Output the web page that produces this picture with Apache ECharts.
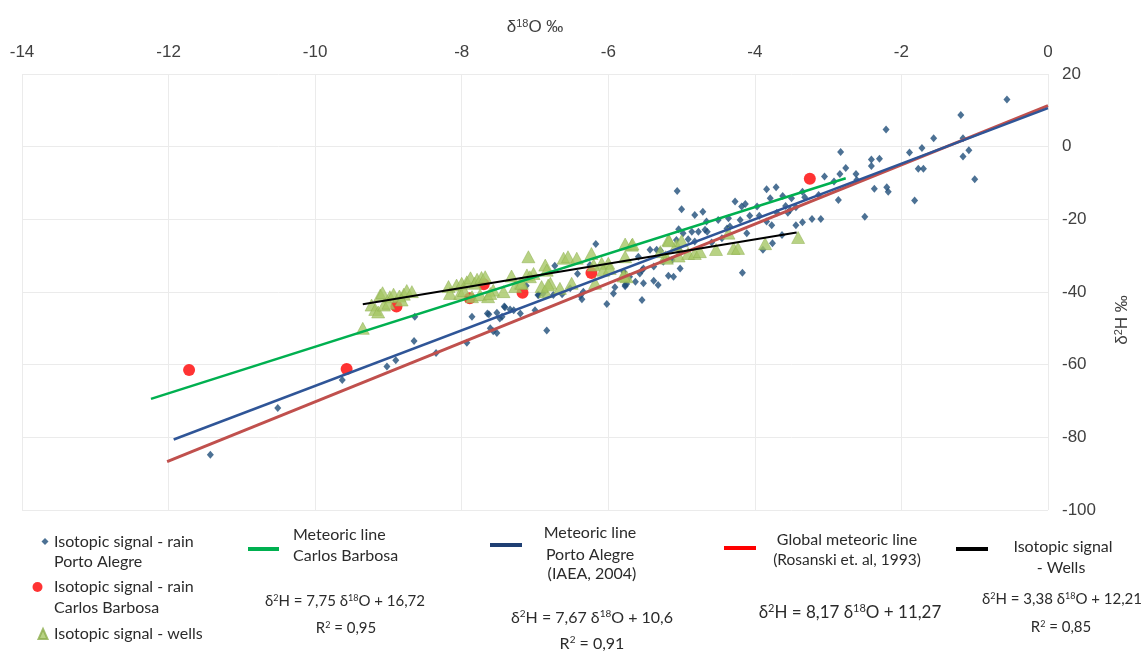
<!DOCTYPE html>
<html>
<head>
<meta charset="utf-8">
<script src="https://cdn.jsdelivr.net/npm/echarts@6/dist/echarts.min.js"></script>
<style>
html, body { margin: 0; padding: 0; background: #fff; }
#chart { width: 1145px; height: 651px; }
</style>
</head>
<body>
<div id="chart"></div>
<script>
// d18O (x), d2H (y)
const rainPortoAlegre = [
  [-11.43,-84.8],[-10.51,-71.9],[-9.63,-64.2],[-9.02,-60.5],[-8.90,-58.8],[-8.65,-53.5],[-8.35,-56.8],
  [-8.64,-46.8],[-7.93,-54.0],[-7.86,-46.8],[-7.63,-46.1],[-7.52,-45.7],[-7.41,-44.2],[-7.34,-44.8],
  [-7.29,-45.0],[-7.20,-45.9],[-7.45,-46.8],[-7.61,-50.0],[-7.57,-50.8],[-7.52,-51.3],[-6.84,-50.6],
  [-7.00,-45.0],[-6.95,-40.8],[-6.89,-40.4],[-6.75,-40.8],[-6.63,-40.6],[-6.52,-39.0],[-6.38,-41.0],
  [-6.36,-42.0],[-6.34,-39.9],[-6.73,-32.8],[-6.42,-35.0],[-6.02,-43.3],[-5.91,-38.7],[-5.93,-40.4],
  [-5.77,-38.1],[-5.63,-37.2],[-6.17,-26.8],[-6.25,-32.6],[-5.54,-42.2],[-5.75,-37.8],[-5.52,-37.6],
  [-5.38,-36.9],[-5.32,-38.1],[-5.43,-28.4],[-5.29,-28.6],[-5.54,-34.0],[-5.57,-34.9],[-5.18,-35.5],
  [-5.11,-35.8],[-5.04,-28.4],[-7.12,-38.3],[-7.42,-44.0],[-7.65,-45.9],[-7.48,-47.3],[-6.96,-40.8],
  [-5.06,-12.2],[-5.00,-17.2],[-4.82,-18.8],[-4.71,-17.9],[-4.66,-20.6],[-4.50,-20.2],[-4.36,-19.7],
  [-4.34,-22.0],[-4.20,-20.2],[-4.27,-15.1],[-4.18,-16.5],[-4.13,-15.8],[-3.97,-16.5],[-4.38,-22.5],
  [-4.07,-19.0],[-3.94,-19.0],[-3.84,-11.7],[-3.71,-11.2],[-3.79,-14.2],[-3.62,-13.6],[-3.50,-14.2],
  [-3.35,-12.4],[-3.58,-16.3],[-3.52,-17.4],[-3.44,-16.7],[-3.84,-20.6],[-3.77,-21.6],[-3.70,-18.2],
  [-3.55,-18.2],[-4.11,-23.8],[-3.63,-24.3],[-3.44,-21.6],[-3.35,-20.8],[-3.22,-19.9],[-3.10,-19.9],
  [-2.86,-14.7],[-2.50,-19.3],[-3.89,-28.4],[-3.76,-26.6],[-4.17,-34.7],[-5.04,-22.7],[-4.98,-23.8],
  [-4.86,-23.4],[-4.77,-23.4],[-4.68,-22.9],[-4.65,-23.4],[-5.07,-25.7],[-4.91,-25.5],[-4.82,-26.1],
  [-4.59,-26.4],[-4.45,-25.2],[-5.59,-30.3],[-5.34,-28.4],[-5.52,-33.5],[-5.38,-33.0],[-5.25,-31.7],
  [-5.13,-31.2],[-5.02,-33.5],[-5.77,-38.4],[-5.71,-35.8],[-5.79,-34.4],
  [-0.56,13.0],[-1.19,8.7],[-1.16,2.3],[-1.16,-2.7],[-1.08,-1.0],[-1.00,-9.0],[-1.56,2.3],[-1.72,-0.4],
  [-1.89,-1.6],[-1.77,-6.1],[-1.70,-6.1],[-1.82,-14.8],[-2.21,4.7],[-2.41,-3.5],[-2.41,-5.3],
  [-2.30,-3.3],[-2.20,-11.2],[-2.18,-12.4],[-2.37,-11.6],[-2.83,-1.5],[-2.76,-5.9],[-2.62,-7.5],
  [-2.61,-9.2],[-2.84,-7.5],[-3.05,-8.2],[-2.92,-9.6],[-3.13,-13.3],[-3.32,-13.9]
];
const rainCarlosBarbosa = [
  [-11.72,-61.5],[-9.57,-61.2],[-8.89,-44.0],[-7.89,-41.7],[-7.70,-37.9],[-7.17,-40.2],[-6.23,-34.8],[-3.25,-8.8]
];
const wells = [
  [-9.35,-50.0],[-9.23,-43.6],[-9.18,-44.8],[-9.14,-45.5],[-9.11,-40.8],[-9.08,-40.2],[-9.06,-43.6],
  [-8.98,-41.3],[-8.93,-40.6],[-8.85,-41.1],[-8.79,-40.6],[-8.75,-39.6],[-8.68,-39.9],[-9.00,-43.1],
  [-8.82,-42.2],[-8.18,-38.5],[-8.07,-38.1],[-8.00,-37.6],[-7.93,-37.2],[-7.88,-36.1],[-7.82,-37.6],
  [-7.79,-36.5],[-7.73,-36.0],[-7.68,-35.8],[-8.16,-40.4],[-8.02,-40.4],[-7.97,-39.6],[-7.86,-41.3],
  [-7.75,-40.8],[-7.64,-41.3],[-7.57,-39.5],[-7.43,-39.9],[-7.32,-35.6],[-7.11,-35.3],[-7.20,-37.6],
  [-7.27,-38.5],[-7.61,-40.4],[-7.09,-30.3],[-6.86,-32.6],[-6.84,-34.0],[-6.61,-30.7],[-6.55,-30.3],
  [-6.43,-30.7],[-6.23,-29.4],[-5.77,-26.8],[-5.68,-27.1],[-5.77,-30.3],[-5.18,-25.7],[-5.07,-27.1],
  [-6.09,-32.1],[-6.00,-32.1],[-6.07,-34.0],[-5.98,-33.5],[-5.79,-35.3],[-5.22,-30.3],[-6.18,-37.6],
  [-6.66,-39.0],[-6.50,-37.6],[-6.79,-37.6],[-6.86,-39.9],[-6.91,-38.5],[-7.02,-34.9],[-7.07,-35.8],
  [-7.18,-37.6],[-6.20,-32.6],[-5.75,-35.8],[-6.82,-38.1],[-5.67,-26.8],[-5.17,-25.9],[-5.00,-25.9],
  [-5.20,-30.7],[-5.04,-30.1],[-4.91,-29.4],[-4.82,-29.4],[-4.75,-28.9],[-5.29,-28.9],[-4.53,-28.3],
  [-4.36,-23.8],[-4.29,-28.0],[-4.23,-28.0],[-3.86,-26.7],[-3.41,-25.0],[-5.79,-35.6]
];
// regression lines as drawn (end points)
const lineCarlosBarbosa = [[-12.24,-69.4],[-2.76,-8.7]];
const linePortoAlegre = [[-11.93,-80.6],[0,10.6]];
const lineGlobal = [[-12.02,-86.7],[0,11.3]];
const lineWells = [[-9.35,-43.4],[-3.43,-23.6]];

const xTicks = { min: -14, max: 0, interval: 2 };
const yTicks = { min: -100, max: 20, interval: 20 };

const names = {
  pa: 'Isotopic signal - rain Porto Alegre',
  cb: 'Isotopic signal - rain Carlos Barbosa',
  wl: 'Isotopic signal - wells',
  lcb: 'Meteoric line Carlos Barbosa',
  lpa: 'Meteoric line Porto Alegre (IAEA, 2004)',
  lgl: 'Global meteoric line (Rosanski et. al, 1993)',
  lwl: 'Isotopic signal - Wells'
};

const FONT = 'Lato, "Liberation Sans", sans-serif';
const AXFONT = '"Liberation Sans", Arial, sans-serif';
const TXT = '#2b2b2b';

const chart = echarts.init(document.getElementById('chart'));

function legendIcon(name, left, top, w, h, icon, color) {
  return {
    data: [{ name: name, icon: icon, itemStyle: color ? { color: color, borderWidth: 0 } : undefined }],
    left: left, top: top, itemWidth: w, itemHeight: h, padding: 0, itemGap: 0,
    selectedMode: false, formatter: function () { return ''; }
  };
}

function txt(x, y, text, size, align) {
  return {
    type: 'text', x: x, y: y, silent: true,
    style: {
      text: text, fill: TXT, font: size + 'px ' + FONT,
      textAlign: align || 'center', textVerticalAlign: 'middle'
    }
  };
}

function eq(x, y, text, size) {
  return {
    type: 'text', x: x, y: y, silent: true,
    style: {
      text: text, fill: TXT, fontFamily: FONT, fontSize: size,
      textAlign: 'center', textVerticalAlign: 'middle',
      rich: {
        n: { fontSize: size, fontFamily: FONT, fill: TXT, verticalAlign: 'bottom' },
        s: { fontSize: Math.round(size * 0.62), fontFamily: FONT, fill: TXT, verticalAlign: 'bottom', padding: [0, 0, Math.round(size * 0.42), 0] }
      }
    }
  };
}

chart.setOption({
  animation: false,
  grid: { left: 22, right: 97, top: 74, bottom: 141 },
  xAxis: {
    type: 'value', position: 'top',
    min: xTicks.min, max: xTicks.max, interval: xTicks.interval,
    name: '{n|δ}{s|18}{n|O ‰}', nameLocation: 'middle', nameGap: 38,
    nameTextStyle: {
      color: '#404040',
      rich: {
        n: { fontFamily: AXFONT, fontSize: 17, color: '#404040', verticalAlign: 'bottom' },
        s: { fontFamily: AXFONT, fontSize: 11, color: '#404040', verticalAlign: 'bottom', padding: [0, 0, 7, 0] }
      }
    },
    axisLine: { show: false }, axisTick: { show: false },
    axisLabel: { margin: 13, fontFamily: AXFONT, fontSize: 17, color: '#404040' },
    splitLine: { lineStyle: { color: '#ebebeb', width: 1 } }
  },
  yAxis: {
    type: 'value', position: 'right',
    min: yTicks.min, max: yTicks.max, interval: yTicks.interval,
    axisLine: { show: false }, axisTick: { show: false },
    axisLabel: { margin: 14, fontFamily: AXFONT, fontSize: 17, color: '#404040' },
    splitLine: { lineStyle: { color: '#ebebeb', width: 1 } }
  },
  legend: [
    legendIcon(names.pa, 41.5, 538, 7, 7, 'diamond'),
    legendIcon(names.cb, 32.5, 582, 10, 10, 'circle'),
    legendIcon(names.wl, 37.5, 628, 9, 10, 'triangle'),
    legendIcon(names.lcb, 248, 547, 31, 4, 'rect', '#00b050'),
    legendIcon(names.lpa, 490, 543, 32, 4, 'rect', '#1f3f73'),
    legendIcon(names.lgl, 724, 546, 32, 4, 'rect', '#ff0000'),
    legendIcon(names.lwl, 956, 547, 32, 4, 'rect', '#000000')
  ],
  graphic: [
    {
      type: 'text', x: 1122, y: 320, rotation: Math.PI / 2, silent: true,
      style: {
        text: '{n|δ}{s|2}{n|H ‰}', fill: '#404040', textAlign: 'center', textVerticalAlign: 'middle',
        rich: {
          n: { fontFamily: AXFONT, fontSize: 17, fill: '#404040', verticalAlign: 'bottom' },
          s: { fontFamily: AXFONT, fontSize: 11, fill: '#404040', verticalAlign: 'bottom', padding: [0, 0, 7, 0] }
        }
      }
    },
    txt(54, 542, 'Isotopic signal - rain', 16, 'left'),
    txt(54, 562, 'Porto Alegre', 16, 'left'),
    txt(54, 587, 'Isotopic signal - rain', 16, 'left'),
    txt(54, 608, 'Carlos Barbosa', 16, 'left'),
    txt(54, 634, 'Isotopic signal - wells', 16, 'left'),
    txt(293, 535, 'Meteoric line', 16, 'left'),
    txt(293, 556, 'Carlos Barbosa', 16, 'left'),
    eq(345, 601, '{n|δ}{s|2}{n|H = 7,75 δ}{s|18}{n|O + 16,72}', 15),
    eq(346, 628, '{n|R}{s|2}{n| = 0,95}', 15),
    txt(590, 533, 'Meteoric line', 16),
    txt(590, 555, 'Porto Alegre', 16),
    txt(592, 574, '(IAEA, 2004)', 16),
    eq(592, 617, '{n|δ}{s|2}{n|H = 7,67 δ}{s|18}{n|O + 10,6}', 16),
    eq(592, 643, '{n|R}{s|2}{n| = 0,91}', 16),
    txt(847, 540, 'Global meteoric line', 16),
    txt(847, 560, '(Rosanski et. al, 1993)', 15.5),
    eq(850, 612, '{n|δ}{s|2}{n|H = 8,17 δ}{s|18}{n|O + 11,27}', 17),
    txt(1063, 547, 'Isotopic signal', 16),
    txt(1061, 568, '- Wells', 16),
    eq(1062, 599, '{n|δ}{s|2}{n|H = 3,38 δ}{s|18}{n|O + 12,21}', 15),
    eq(1061, 627, '{n|R}{s|2}{n| = 0,85}', 15)
  ],
  series: [
    {
      name: names.pa, type: 'scatter', data: rainPortoAlegre,
      symbol: 'diamond', symbolSize: [7, 8],
      itemStyle: { color: '#1f4e79' }
    },
    {
      name: names.cb, type: 'scatter', data: rainCarlosBarbosa,
      symbol: 'circle', symbolSize: 12,
      itemStyle: { color: '#ff0000' }
    },
    {
      name: names.wl, type: 'scatter', data: wells,
      symbol: 'triangle', symbolSize: [13, 12],
      itemStyle: { color: '#a6c765', borderColor: '#8cad4c', borderWidth: 0.6 }
    },
    {
      name: names.lgl, type: 'line', data: lineGlobal, symbol: 'none', silent: true,
      lineStyle: { color: '#c0504d', width: 3 }
    },
    {
      name: names.lpa, type: 'line', data: linePortoAlegre, symbol: 'none', silent: true,
      lineStyle: { color: '#2f5597', width: 2.5 }
    },
    {
      name: names.lcb, type: 'line', data: lineCarlosBarbosa, symbol: 'none', silent: true,
      lineStyle: { color: '#00b050', width: 2.5 }
    },
    {
      name: names.lwl, type: 'line', data: lineWells, symbol: 'none', silent: true,
      lineStyle: { color: '#000000', width: 2 }
    }
  ]
});
</script>
</body>
</html>
